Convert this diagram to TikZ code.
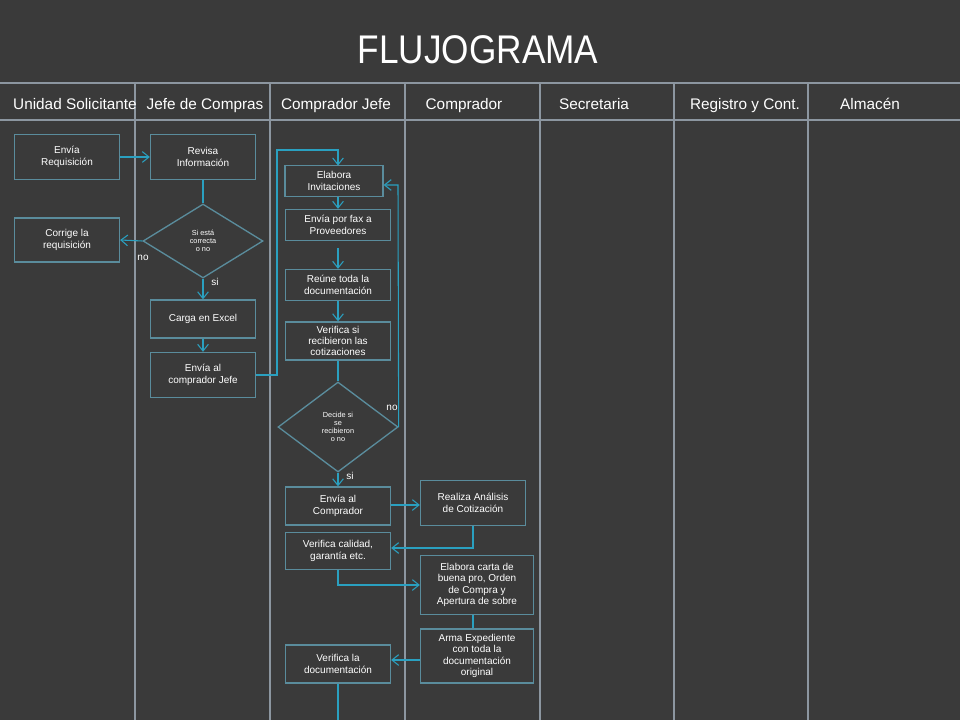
\documentclass[tikz,border=0pt]{standalone}
\usepackage{fontspec}
\setmainfont{Liberation Sans}
\usetikzlibrary{arrows.meta,shapes.geometric}
\definecolor{bg}{HTML}{3A3A3A}
\definecolor{grid}{HTML}{8C96A0}
\definecolor{cy}{HTML}{2AA0C0}
\definecolor{bx}{HTML}{5A8C9C}
\begin{document}
\begin{tikzpicture}[x=0.75pt,y=-0.75pt,
  box/.style={draw=bx,line width=1pt,fill=bg,text=white,align=center,font=\fontsize{7.5}{8.5}\selectfont,inner sep=1pt},
  dia/.style={draw=bx,line width=1pt,fill=bg,diamond,text=white,align=center,font=\fontsize{5.5}{6}\selectfont,inner sep=0pt},
  con/.style={draw=cy,line width=0.8pt},
  arr/.style={con,-{Straight Barb[length=5pt,width=8pt]}},
  lab/.style={text=white,font=\fontsize{7.5}{8}\selectfont},
  hd/.style={text=white,font=\fontsize{11.5}{13}\selectfont,anchor=base}]
\fill[bg] (0,0) rectangle (960,720);
\useasboundingbox (0,0) rectangle (960,720);
\draw[grid,line width=1pt] (0,83) -- (960,83) (0,120) -- (960,120);
\foreach \x in {135,270,405,540,674,808} \draw[grid,line width=1pt] (\x,83) -- (\x,720);
\node[text=white,font=\fontsize{30}{32}\selectfont,xscale=0.88] (title) at (478,50) {FLUJOGRAMA};
\node[hd] (h1) at (75,110) {Unidad Solicitante};
\node[hd] (h2) at (205,110) {Jefe de Compras};
\node[hd] (h3) at (336,110) {Comprador Jefe};
\node[hd] (h4) at (464,110) {Comprador};
\node[hd] (h5) at (594,110) {Secretaria};
\node[hd] (h6) at (745,110) {Registro y Cont.};
\node[hd] (h7) at (870,110) {Almacén};
% boxes
\node[box,minimum width=105*0.75pt,minimum height=45*0.75pt] (req) at (67,157) {Envía\\Requisición};
\node[box,minimum width=105*0.75pt,minimum height=45*0.75pt] (rev) at (203,157) {Revisa\\Información};
\node[box,minimum width=105*0.75pt,minimum height=44*0.75pt] (cor) at (67,240) {Corrige la\\requisición};
\node[dia,minimum width=120*0.75pt,minimum height=74*0.75pt] (d1) at (203,241) {Si está\\correcta\\o no};
\node[box,minimum width=105*0.75pt,minimum height=38*0.75pt] (exc) at (203,319) {Carga en Excel};
\node[box,minimum width=105*0.75pt,minimum height=45*0.75pt] (ejf) at (203,375) {Envía al\\comprador Jefe};
\node[box,minimum width=98*0.75pt,minimum height=31*0.75pt] (inv) at (334,181) {Elabora\\Invitaciones};
\node[box,minimum width=105*0.75pt,minimum height=31*0.75pt] (fax) at (338,225) {Envía por fax a\\Proveedores};
\node[box,minimum width=105*0.75pt,minimum height=31*0.75pt] (reu) at (338,285) {Reúne toda la\\documentación};
\node[box,minimum width=105*0.75pt,minimum height=38*0.75pt] (ver) at (338,341) {Verifica si\\recibieron las\\cotizaciones};
\node[dia,minimum width=120*0.75pt,minimum height=90*0.75pt] (d2) at (338,427) {Decide si\\se\\recibieron\\o no};
\node[box,minimum width=105*0.75pt,minimum height=38*0.75pt] (eco) at (338,506) {Envía al\\Comprador};
\node[box,minimum width=105*0.75pt,minimum height=37*0.75pt] (cal) at (338,551) {Verifica calidad,\\garantía etc.};
\node[box,minimum width=105*0.75pt,minimum height=45*0.75pt] (ana) at (473,503) {Realiza Análisis\\de Cotización};
\node[box,minimum width=113*0.75pt,minimum height=59*0.75pt] (car) at (477,585) {Elabora carta de\\buena pro, Orden\\de Compra y\\Apertura de sobre};
\node[box,minimum width=113*0.75pt,minimum height=54*0.75pt] (exp) at (477,656) {Arma Expediente\\con toda la\\documentación\\original};
\node[box,minimum width=105*0.75pt,minimum height=38*0.75pt] (vdo) at (338,664) {Verifica la\\documentación};
\coordinate (bot) at (338,720);
% connectors
\draw[arr] (req) -- (rev);
\draw[con] (rev) -- (d1.north);
\draw[arr] (d1.west) -- (cor.east);
\node[lab] (no1) at (143,258) {no};
\draw[arr] (d1.south) -- (exc);
\node[lab] (si1) at (215,282) {si};
\draw[arr] (exc) -- (ejf);
\draw[arr] (ejf.east) -- (277,375) -- (277,150) -- (338,150) -- (338,165.5);
\draw[arr] (inv.south -| 338,0) -- (fax);
\draw[arr] (338,248) -- (reu);
\draw[arr] (reu) -- (ver);
\draw[con] (ver) -- (d2.north);
\draw[arr] (d2.east) -- (398,185) -- (inv.east |- 0,185);
\node[lab] (no2) at (392,408) {no};
\draw[arr] (d2.south) -- (eco);
\node[lab] (si2) at (350,476) {si};
\draw[arr] (eco.east |- 0,505) -- (ana.west |- 0,505);
\draw[arr] (ana.south) -- (473,548) -- (cal.east |- 0,548);
\draw[arr] (cal.south) -- (338,585) -- (car.west |- 0,585);
\draw[con] (car.south -| 473,0) -- (exp.north -| 473,0);
\draw[arr] (exp.west |- 0,660) -- (vdo.east |- 0,660);
\draw[con] (vdo) -- (bot);
\end{tikzpicture}
\end{document}
